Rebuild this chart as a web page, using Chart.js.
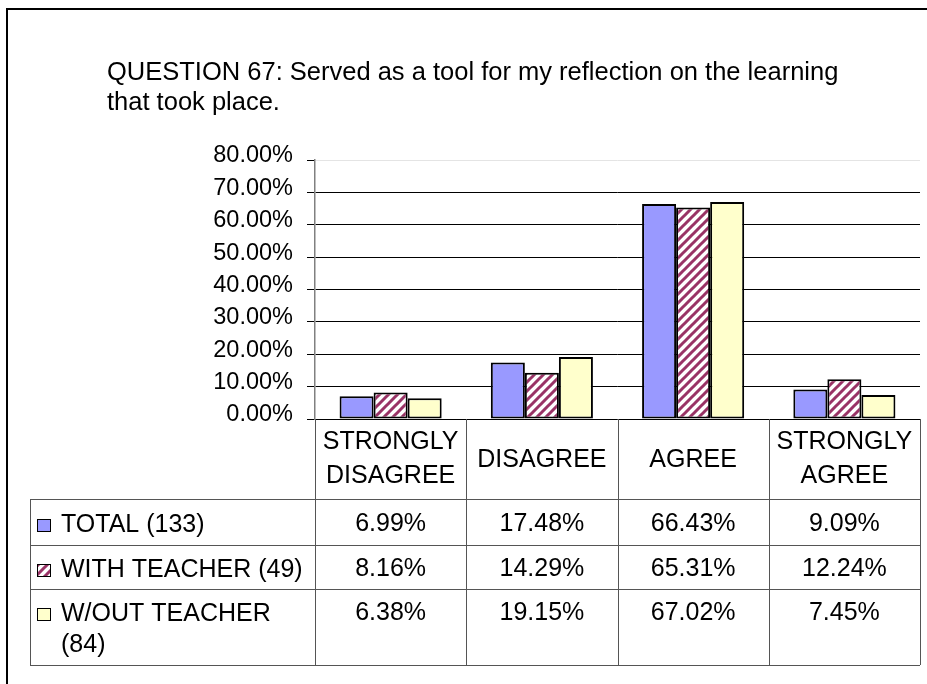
<!DOCTYPE html>
<html>
<head>
<meta charset="utf-8">
<script src="https://cdn.jsdelivr.net/npm/chart.js@4"></script>
<style>
  html, body { margin: 0; padding: 0; background: #fff; }
  #wrap { width: 927px; height: 684px; position: relative; }
</style>
</head>
<body>
<div id="wrap"><canvas id="chart"></canvas></div>
<script>
const titleLines = ["QUESTION 67: Served as a tool for my reflection on the learning", "that took place."];
const categories = [["STRONGLY", "DISAGREE"], ["DISAGREE"], ["AGREE"], ["STRONGLY", "AGREE"]];
const seriesNames = [["TOTAL (133)"], ["WITH TEACHER (49)"], ["W/OUT TEACHER", "(84)"]];
const totalValues = [6.99, 17.48, 66.43, 9.09];
const withTeacherValues = [8.16, 14.29, 65.31, 12.24];
const withoutTeacherValues = [6.38, 19.15, 67.02, 7.45];
const yMax = 80;
const yStep = 10;

const FONT = "'Liberation Sans', Arial, sans-serif";
Chart.defaults.font.family = FONT;
Chart.defaults.color = "#000";

// hatched fill for the "with teacher" series
function makeHatch() {
  const c = document.createElement("canvas");
  const s = 9;
  c.width = s;
  c.height = s;
  const g = c.getContext("2d");
  g.fillStyle = "#fff";
  g.fillRect(0, 0, s, s);
  g.strokeStyle = "#993366";
  g.lineWidth = 3;
  g.beginPath();
  g.moveTo(-2, 2); g.lineTo(2, -2);
  g.moveTo(0, s); g.lineTo(s, 0);
  g.moveTo(s - 2, s + 2); g.lineTo(s + 2, s - 2);
  g.stroke();
  return g.createPattern(c, "repeat");
}
const hatch = makeHatch();
const fills = ["#9999ff", hatch, "#ffffcc"];
const seriesValues = [totalValues, withTeacherValues, withoutTeacherValues];

// title, outer frame and data table
const tablePlugin = {
  id: "tablePlugin",
  afterDraw(chart) {
    const ctx = chart.ctx;
    const area = chart.chartArea;
    const colW = (area.right - area.left) / categories.length;
    const tableLeft = 30;
    const rowLines = [499, 545, 589, 665];
    const rowBase = [532, 577, 621];
    const lineGap = 31;

    ctx.save();
    // outer frame
    ctx.strokeStyle = "#000";
    ctx.lineWidth = 2;
    ctx.strokeRect(7, 9, 960, 720);

    // title
    ctx.fillStyle = "#000";
    ctx.font = "25.5px " + FONT;
    ctx.textAlign = "left";
    ctx.textBaseline = "alphabetic";
    titleLines.forEach((t, i) => ctx.fillText(t, 107, 80 + i * 30));

    // table lines
    ctx.strokeStyle = "#555";
    ctx.lineWidth = 1;
    ctx.beginPath();
    rowLines.forEach(y => {
      ctx.moveTo(tableLeft, y + 0.5);
      ctx.lineTo(area.right, y + 0.5);
    });
    for (let i = 0; i <= categories.length; i++) {
      const xx = Math.round(area.left + i * colW) + 0.5;
      ctx.moveTo(xx, area.bottom);
      ctx.lineTo(xx, rowLines[rowLines.length - 1]);
    }
    ctx.moveTo(tableLeft + 0.5, rowLines[0]);
    ctx.lineTo(tableLeft + 0.5, rowLines[rowLines.length - 1]);
    ctx.stroke();

    // category header
    ctx.font = "25px " + FONT;
    ctx.textAlign = "center";
    categories.forEach((lab, i) => {
      const cx = chart.scales.x.getPixelForValue(i);
      if (lab.length === 1) {
        ctx.fillText(lab[0], cx, 467);
      } else {
        ctx.fillText(lab[0], cx, 449);
        ctx.fillText(lab[1], cx, 483);
      }
    });

    // rows
    seriesNames.forEach((name, r) => {
      const y = rowBase[r];
      ctx.fillStyle = fills[r];
      ctx.fillRect(37, y - 13, 14, 13);
      ctx.strokeStyle = "#000";
      ctx.lineWidth = 1;
      ctx.strokeRect(37.5, y - 12.5, 13, 12);
      ctx.fillStyle = "#000";
      ctx.textAlign = "left";
      name.forEach((part, k) => ctx.fillText(part, 61, y + k * lineGap));
      ctx.textAlign = "center";
      seriesValues[r].forEach((v, i) => {
        ctx.fillText(v.toFixed(2) + "%", chart.scales.x.getPixelForValue(i), y - 1);
      });
    });
    ctx.restore();
  }
};

new Chart(document.getElementById("chart"), {
  type: "bar",
  data: {
    labels: categories.map(c => c.join(" ")),
    datasets: seriesNames.map((n, i) => ({
      label: n.join(" "),
      data: seriesValues[i],
      backgroundColor: fills[i],
      borderColor: "#000",
      borderWidth: 2,
      borderSkipped: false,
      categoryPercentage: 0.675,
      barPercentage: 1.0
    }))
  },
  options: {
    responsive: true,
    maintainAspectRatio: false,
    animation: false,
    layout: { padding: { top: 160, bottom: 265, left: 0, right: 7 } },
    scales: {
      x: { display: false },
      y: {
        min: 0,
        max: yMax,
        ticks: {
          stepSize: yStep,
          callback: v => v.toFixed(2) + "%",
          color: "#000",
          font: { size: 23.5 },
          padding: 14,
          labelOffset: -4
        },
        grid: {
          color: c => (c.tick && c.tick.value === yMax ? "#e4e4e4" : "#000"),
          tickColor: "#000",
          tickLength: 8,
          lineWidth: 1
        },
        border: { color: "#808080", width: 1.5 },
        afterFit: s => { s.width = 315; }
      }
    },
    plugins: {
      legend: { display: false },
      tooltip: { enabled: false }
    }
  },
  plugins: [tablePlugin]
});
</script>
</body>
</html>
